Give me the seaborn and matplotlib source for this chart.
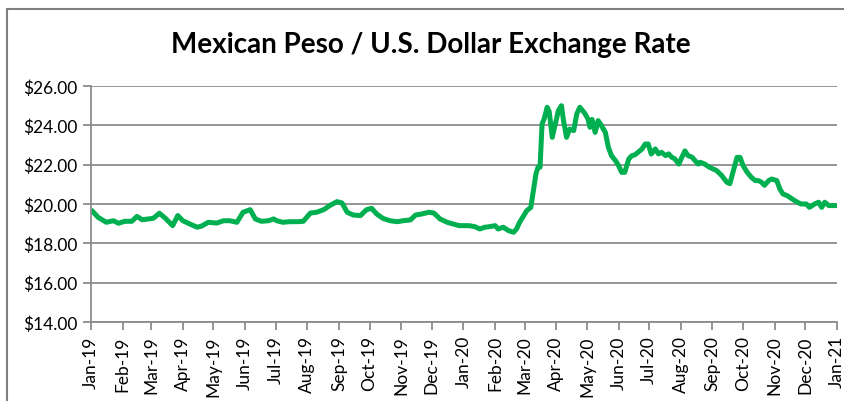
import numpy as np
import pandas as pd
import matplotlib
matplotlib.use("Agg")
import matplotlib.pyplot as plt
import matplotlib.dates as mdates
from matplotlib.ticker import FuncFormatter
from matplotlib.patches import Rectangle
import seaborn as sns

# values (MXN per USD)
dates_2019 = ["2019-01-02", "2019-01-08", "2019-01-16", "2019-01-23", "2019-01-28",
              "2019-02-03", "2019-02-10", "2019-02-15", "2019-02-20", "2019-02-26",
              "2019-03-03", "2019-03-09", "2019-03-15", "2019-03-22", "2019-03-27",
              "2019-04-01", "2019-04-08", "2019-04-15", "2019-04-19", "2019-04-26",
              "2019-05-04", "2019-05-11", "2019-05-17", "2019-05-24", "2019-05-30",
              "2019-06-06", "2019-06-11", "2019-06-17", "2019-06-24", "2019-06-29",
              "2019-07-02", "2019-07-08", "2019-07-15", "2019-07-22", "2019-07-28",
              "2019-08-04", "2019-08-10", "2019-08-17", "2019-08-23", "2019-08-30",
              "2019-09-04", "2019-09-09", "2019-09-15", "2019-09-22", "2019-09-28",
              "2019-10-03", "2019-10-08", "2019-10-14", "2019-10-21", "2019-10-28",
              "2019-11-03", "2019-11-10", "2019-11-15", "2019-11-21", "2019-11-28",
              "2019-12-03", "2019-12-09", "2019-12-16", "2019-12-22", "2019-12-28"]
rates_2019 = [19.66, 19.32, 19.07, 19.15, 19.02,
              19.12, 19.12, 19.37, 19.20, 19.24,
              19.27, 19.53, 19.27, 18.90, 19.41,
              19.15, 18.98, 18.82, 18.87, 19.07,
              19.03, 19.15, 19.15, 19.07, 19.58,
              19.71, 19.24, 19.12, 19.15, 19.24,
              19.15, 19.07, 19.10, 19.10, 19.12,
              19.54, 19.58, 19.71, 19.92, 20.12,
              20.05, 19.58, 19.44, 19.41, 19.71,
              19.78, 19.49, 19.27, 19.15, 19.10,
              19.15, 19.19, 19.44, 19.49, 19.58,
              19.54, 19.24, 19.07, 18.98, 18.90]

dates_2020 = ["2020-01-06", "2020-01-12", "2020-01-17", "2020-01-22", "2020-01-27",
              "2020-02-01", "2020-02-04", "2020-02-09", "2020-02-14", "2020-02-19",
              "2020-02-22", "2020-02-25", "2020-02-29", "2020-03-03", "2020-03-07",
              "2020-03-09", "2020-03-12", "2020-03-14", "2020-03-16", "2020-03-18",
              "2020-03-20", "2020-03-23", "2020-03-25", "2020-03-28", "2020-03-31",
              "2020-04-03", "2020-04-06", "2020-04-08", "2020-04-11", "2020-04-14",
              "2020-04-18", "2020-04-21", "2020-04-24", "2020-04-29", "2020-05-02",
              "2020-05-04", "2020-05-06", "2020-05-09", "2020-05-12", "2020-05-15",
              "2020-05-19", "2020-05-22", "2020-05-25", "2020-05-29", "2020-06-01",
              "2020-06-04", "2020-06-07", "2020-06-11", "2020-06-14", "2020-06-17",
              "2020-06-20", "2020-06-24", "2020-06-27", "2020-06-30", "2020-07-03",
              "2020-07-07", "2020-07-10", "2020-07-13", "2020-07-17", "2020-07-20",
              "2020-07-23", "2020-07-26", "2020-07-30", "2020-08-02", "2020-08-05",
              "2020-08-08", "2020-08-12", "2020-08-15", "2020-08-18", "2020-08-20",
              "2020-08-24", "2020-08-29", "2020-09-05", "2020-09-10", "2020-09-15",
              "2020-09-18", "2020-09-21", "2020-09-25", "2020-09-28", "2020-10-01",
              "2020-10-05", "2020-10-09", "2020-10-13", "2020-10-16", "2020-10-19",
              "2020-10-22", "2020-10-26", "2020-10-29", "2020-11-03", "2020-11-06",
              "2020-11-09", "2020-11-13", "2020-11-18", "2020-11-23", "2020-11-27",
              "2020-12-02", "2020-12-05", "2020-12-10", "2020-12-14", "2020-12-17",
              "2020-12-20", "2020-12-24", "2020-12-27", "2020-12-31"]
rates_2020 = [18.90, 18.85, 18.73, 18.82, 18.85,
              18.90, 18.73, 18.82, 18.65, 18.56,
              18.73, 19.07, 19.41, 19.66, 19.83,
              20.51, 21.53, 21.87, 21.87, 24.07,
              24.32, 24.92, 24.70, 23.39, 24.07,
              24.75, 25.00, 24.24, 23.39, 23.81,
              23.73, 24.58, 24.92, 24.60, 24.32,
              23.90, 24.30, 23.64, 24.24, 24.00,
              23.64, 22.88, 22.46, 22.20, 21.95,
              21.61, 21.61, 22.29, 22.46, 22.50,
              22.63, 22.80, 23.05, 23.05, 22.54,
              22.80, 22.55, 22.63, 22.46, 22.55,
              22.38, 22.30, 22.03, 22.38, 22.70,
              22.46, 22.38, 22.20, 22.03, 22.12,
              22.04, 21.87, 21.70, 21.45, 21.11,
              21.03, 21.61, 22.37, 22.37, 21.95,
              21.61, 21.36, 21.19, 21.19, 21.11,
              20.95, 21.19, 21.27, 21.19, 20.76,
              20.51, 20.43, 20.26, 20.09, 20.00,
              20.00, 19.83, 20.00, 20.09, 19.83,
              20.09, 19.92, 19.92, 19.92]

df = pd.DataFrame({"date": pd.to_datetime(dates_2019 + dates_2020),
                   "rate": rates_2019 + rates_2020})

sns.set_style("white")
plt.rcParams['font.family'] = ['Lato', 'DejaVu Sans']

fig = plt.figure(figsize=(8.45, 4.02), dpi=100)
ax = fig.add_axes([91/845, 1 - 323/402, (837 - 91)/845, (323 - 87)/402])

# chart area border (cropped at right/bottom like the reference)
fig.patches.append(Rectangle((7/845, -0.05), 2, 1 - 10/402 + 0.05, transform=fig.transFigure,
                             fill=False, edgecolor="#808080", linewidth=1.5))

sns.lineplot(data=df, x="date", y="rate", ax=ax, color="#00B050", linewidth=3.6)

ax.set_xlim(pd.Timestamp("2019-01-01"), pd.Timestamp("2021-01-01"))
ax.set_ylim(14, 26)
ax.set_yticks(np.arange(14, 27, 2))
ax.yaxis.set_major_formatter(FuncFormatter(lambda v, p: "${:.2f}".format(v)))
ax.xaxis.set_major_locator(mdates.MonthLocator())
ax.xaxis.set_major_formatter(mdates.DateFormatter("%b-%y"))
plt.setp(ax.get_xticklabels(), rotation=90)

ax.grid(axis="y", color="#8c8c8c", linewidth=1.3)
ax.set_axisbelow(True)
for s in ["top", "right"]:
    ax.spines[s].set_visible(False)
for s in ["left", "bottom"]:
    ax.spines[s].set_color("#8c8c8c")
    ax.spines[s].set_linewidth(1.3)
ax.tick_params(axis="both", which="major", direction="out", length=6, width=1.3,
               color="#8c8c8c", labelsize=12.5, labelcolor="black", bottom=True, left=True)
ax.set_xlabel("")
ax.set_ylabel("")

fig.text(0.51, 1 - 45/402, "Mexican Peso / U.S. Dollar Exchange Rate", ha="center", va="center",
         fontsize=20, fontweight="bold", color="black")

fig.savefig("out.png", dpi=100)
